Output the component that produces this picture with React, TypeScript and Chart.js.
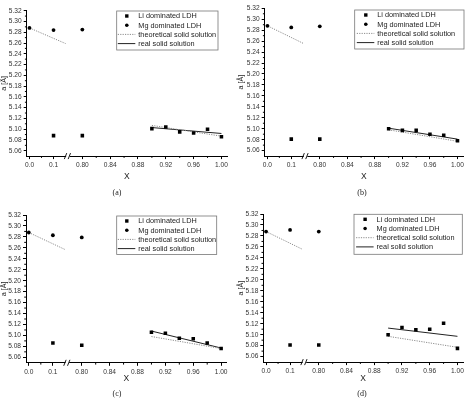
import React, { useEffect, useRef } from 'react';
import { Chart, registerables } from 'chart.js';

Chart.register(...registerables);

// ---------- data ----------
const xTickValues = [0.0, 0.1, 0.8, 0.84, 0.88, 0.92, 0.96, 1.0];
const xTickLabels = ['0.0', '0.1', '0.80', '0.84', '0.88', '0.92', '0.96', '1.00'];
const xMinorValues = [0.05, 0.82, 0.86, 0.9, 0.94, 0.98];
const yTickLabels = ['5.06', '5.08', '5.10', '5.12', '5.14', '5.16', '5.18', '5.20', '5.22', '5.24', '5.26', '5.28', '5.30', '5.32'];
const yMinorValues = [5.07, 5.09, 5.11, 5.13, 5.15, 5.17, 5.19, 5.21, 5.23, 5.25, 5.27, 5.29, 5.31];

const seriesNames = ['Li dominated LDH', 'Mg dominated LDH', 'theoretical solid solution', 'real solid solution'];
const captions = ['(a)', '(b)', '(c)', '(d)'];

const liX = [0.1, 0.8, 0.9, 0.92, 0.94, 0.96, 0.98, 1.0];
const mgX = [0.0, 0.1, 0.8];
const theoLeftX = [0.0, 0.15];
const lineRightX = [0.9, 1.0];

const liA = [5.088, 5.088, 5.101, 5.104, 5.095, 5.093, 5.100, 5.086];
const mgA = [5.288, 5.284, 5.285];
const theoLeftA = [5.288, 5.259];
const theoRightA = [5.107, 5.087];
const realA = [5.103, 5.092];

const liB = [5.081, 5.081, 5.100, 5.097, 5.097, 5.090, 5.088, 5.078];
const mgB = [5.288, 5.285, 5.287];
const theoLeftB = [5.288, 5.256];
const theoRightB = [5.098, 5.077];
const realB = [5.101, 5.081];

const liC = [5.086, 5.082, 5.106, 5.104, 5.095, 5.094, 5.086, 5.076];
const mgC = [5.288, 5.283, 5.279];
const theoLeftC = [5.288, 5.257];
const theoRightC = [5.098, 5.076];
const realC = [5.108, 5.077];

const liD = [5.081, 5.081, 5.100, 5.113, 5.109, 5.110, 5.121, 5.075];
const mgD = [5.288, 5.291, 5.288];
const theoLeftD = [5.288, 5.256];
const theoRightD = [5.097, 5.077];
const realD = [5.112, 5.097];

// ---------- broken x axis mapping ----------
const LEFT_SCALE = 0.346;
const GAP = 0.0414;
function mapX(x: number): number {
  return x <= 0.5 ? x * LEFT_SCALE : 0.1 * LEFT_SCALE + GAP + (x - 0.8);
}
const BREAK_U = (mapX(0.1) + mapX(0.8)) / 2;

const FONT = "'Liberation Sans', Arial, sans-serif";

type PanelCfg = {
  li: number[]; mg: number[]; tl: number[]; tr: number[]; real: number[];
  left: number; top: number; w: number; h: number;
  L: number; T: number; R: number; B: number;
  yTitlePad: number;
  legend: { x: number; y: number; w: number; h: number; tdx: number };
};

const panels: PanelCfg[] = [
  { li: liA, mg: mgA, tl: theoLeftA, tr: theoRightA, real: realA, left: 0, top: 0, w: 234, h: 200, L: 26.7, T: 10.7, R: 227, B: 156.1, yTitlePad: 0, legend: { x: 116.7, y: 11, w: 101.3, h: 39, tdx: 21.6 } },
  { li: liB, mg: mgB, tl: theoLeftB, tr: theoRightB, real: realB, left: 234, top: 0, w: 233, h: 200, L: 30.7, T: 8.3, R: 230, B: 156.1, yTitlePad: 2.6, legend: { x: 120.7, y: 10, w: 109.3, h: 39, tdx: 22.6 } },
  { li: liC, mg: mgC, tl: theoLeftC, tr: theoRightC, real: realC, left: 0, top: 200, w: 234, h: 202, L: 26, T: 15, R: 226.7, B: 162.8, yTitlePad: 0, legend: { x: 116.7, y: 16, w: 100, h: 38.5, tdx: 21.6 } },
  { li: liD, mg: mgD, tl: theoLeftD, tr: theoRightD, real: realD, left: 234, top: 200, w: 233, h: 202, L: 29.3, T: 14, R: 230, B: 162.1, yTitlePad: 2.6, legend: { x: 120, y: 14.3, w: 108.3, h: 40, tdx: 22.6 } },
];

const decorPlugin = {
  id: 'decor',
  afterDraw(chart: any, _args: any, opts: any) {
    const ctx = chart.ctx;
    const xs = chart.scales.x;
    const ys = chart.scales.y;
    const { left, bottom } = chart.chartArea;
    ctx.save();
    // minor ticks
    ctx.strokeStyle = '#000';
    ctx.lineWidth = 1;
    ctx.beginPath();
    for (const v of xMinorValues) {
      const px = xs.getPixelForValue(mapX(v));
      ctx.moveTo(px, bottom);
      ctx.lineTo(px, bottom + 1.8);
    }
    for (const v of yMinorValues) {
      const py = ys.getPixelForValue(v);
      ctx.moveTo(left, py);
      ctx.lineTo(left - 1.8, py);
    }
    ctx.stroke();
    // axis break
    const bx = xs.getPixelForValue(BREAK_U);
    ctx.fillStyle = '#fff';
    ctx.fillRect(bx - 1.8, bottom - 1.5, 3.6, 3);
    ctx.beginPath();
    ctx.lineWidth = 0.9;
    ctx.moveTo(bx - 3.6, bottom + 3);
    ctx.lineTo(bx - 1.2, bottom - 3);
    ctx.moveTo(bx + 0.2, bottom + 3);
    ctx.lineTo(bx + 2.6, bottom - 3);
    ctx.stroke();
    // legend
    const lg = opts.legend;
    ctx.fillStyle = '#fff';
    ctx.fillRect(lg.x, lg.y, lg.w, lg.h);
    ctx.strokeStyle = '#777';
    ctx.lineWidth = 0.8;
    ctx.strokeRect(lg.x, lg.y, lg.w, lg.h);
    ctx.font = `7.3px ${FONT}`;
    ctx.textBaseline = 'middle';
    ctx.textAlign = 'left';
    chart.data.datasets.forEach((ds: any, i: number) => {
      const ry = lg.y + 5 + i * 9.2;
      const tx = lg.x + lg.tdx;
      if (ds.showLine) {
        ctx.save();
        ctx.strokeStyle = ds.borderColor;
        ctx.lineWidth = ds.borderWidth;
        ctx.setLineDash(ds.borderDash || []);
        ctx.beginPath();
        ctx.moveTo(tx - 20.5, ry);
        ctx.lineTo(tx - 3, ry);
        ctx.stroke();
        ctx.restore();
      } else {
        const mx = tx - 11.5;
        ctx.fillStyle = ds.pointBackgroundColor;
        if (ds.pointStyle === 'rect') {
          ctx.fillRect(mx - 1.7, ry - 1.7, 3.4, 3.4);
        } else {
          ctx.beginPath();
          ctx.arc(mx, ry, 1.8, 0, Math.PI * 2);
          ctx.fill();
        }
      }
      ctx.fillStyle = '#222';
      ctx.fillText(ds.label, tx, ry + 0.3);
    });
    ctx.restore();
  },
};

function Panel({ cfg }: { cfg: PanelCfg }) {
  const ref = useRef<HTMLCanvasElement>(null);
  useEffect(() => {
    const canvas = ref.current!;
    const liData = liX.map((x, i) => ({ x: mapX(x), y: cfg.li[i] }));
    const mgData = mgX.map((x, i) => ({ x: mapX(x), y: cfg.mg[i] }));
    const theoData = [
      ...theoLeftX.map((x, i) => ({ x: mapX(x), y: cfg.tl[i] })),
      { x: BREAK_U, y: null },
      ...lineRightX.map((x, i) => ({ x: mapX(x), y: cfg.tr[i] })),
    ];
    const realData = lineRightX.map((x, i) => ({ x: mapX(x), y: cfg.real[i] }));

    const chart = new Chart(canvas, {
      type: 'scatter',
      data: {
        datasets: [
          { label: seriesNames[0], data: liData, pointStyle: 'rect', pointRadius: 2.5, pointBackgroundColor: '#000', pointBorderColor: '#000', pointBorderWidth: 0, showLine: false, order: 1 } as any,
          { label: seriesNames[1], data: mgData, pointStyle: 'circle', pointRadius: 1.9, pointBackgroundColor: '#000', pointBorderColor: '#000', pointBorderWidth: 0, showLine: false, order: 1 } as any,
          { label: seriesNames[2], data: theoData, showLine: true, spanGaps: false, borderColor: '#8c8c8c', borderWidth: 1, borderDash: [1.2, 1.2], pointRadius: 0, order: 2 } as any,
          { label: seriesNames[3], data: realData, showLine: true, borderColor: '#222', borderWidth: 1, pointRadius: 0, order: 2 } as any,
        ],
      },
      options: {
        animation: false,
        responsive: false,
        devicePixelRatio: 1,
        events: [],
        layout: { padding: { left: 0, top: cfg.T, right: cfg.w - cfg.R, bottom: 0 } },
        plugins: {
          legend: { display: false },
          tooltip: { enabled: false },
          decor: { legend: cfg.legend },
        } as any,
        scales: {
          x: {
            type: 'linear',
            min: -0.004,
            max: 0.284,
            afterBuildTicks: (s: any) => { s.ticks = xTickValues.map((v) => ({ value: mapX(v) })); },
            afterFit: (s: any) => { s.height = cfg.h - cfg.B; s.paddingLeft = 0; s.paddingRight = 0; },
            ticks: {
              autoSkip: false, maxRotation: 0, minRotation: 0, padding: 2,
              font: { size: 6.6, family: FONT }, color: '#333',
              callback: (_v: any, i: number) => xTickLabels[i],
            },
            grid: { display: true, drawOnChartArea: false, drawTicks: true, tickLength: 3, tickColor: '#000', color: '#000' },
            border: { display: true, color: '#000', width: 1 },
            title: { display: true, text: 'X', font: { size: 8.5, family: FONT }, color: '#222', padding: { top: 0, bottom: 18 } },
          },
          y: {
            type: 'linear',
            min: 5.05,
            max: 5.32,
            afterBuildTicks: (s: any) => { s.ticks = yTickLabels.map((l) => ({ value: parseFloat(l) })); },
            afterFit: (s: any) => { s.width = cfg.L; s.paddingTop = 0; s.paddingBottom = 0; },
            ticks: {
              autoSkip: false, padding: 2,
              font: { size: 6.6, family: FONT }, color: '#333',
              callback: (_v: any, i: number) => yTickLabels[i],
            },
            grid: { display: true, drawOnChartArea: false, drawTicks: true, tickLength: 3, tickColor: '#000', color: '#000' },
            border: { display: true, color: '#000', width: 1 },
            title: { display: true, text: 'a [Å]', font: { size: 7.2, family: FONT }, color: '#222', padding: { top: cfg.yTitlePad, bottom: 0 } },
          },
        },
      } as any,
      plugins: [decorPlugin],
    });
    return () => chart.destroy();
  }, [cfg]);
  return (
    <canvas
      ref={ref}
      width={cfg.w}
      height={cfg.h}
      style={{ position: 'absolute', left: cfg.left, top: cfg.top, width: cfg.w, height: cfg.h, display: 'block' }}
    />
  );
}

const captionPos = [
  { x: 117, y: 192.5 },
  { x: 362, y: 192.5 },
  { x: 117, y: 394 },
  { x: 362, y: 394 },
];

export default function App() {
  return (
    <div style={{ position: 'absolute', left: 0, top: 0, width: 467, height: 402, background: '#fff', overflow: 'hidden' }}>
      {panels.map((p, i) => (
        <Panel key={i} cfg={p} />
      ))}
      {captions.map((c, i) => (
        <div
          key={'c' + i}
          style={{
            position: 'absolute', left: captionPos[i].x, top: captionPos[i].y,
            transform: 'translate(-50%, -50%)', fontFamily: "'Liberation Serif', serif",
            fontSize: 8, lineHeight: 1, color: '#222', whiteSpace: 'nowrap',
          }}
        >
          {c}
        </div>
      ))}
    </div>
  );
}
